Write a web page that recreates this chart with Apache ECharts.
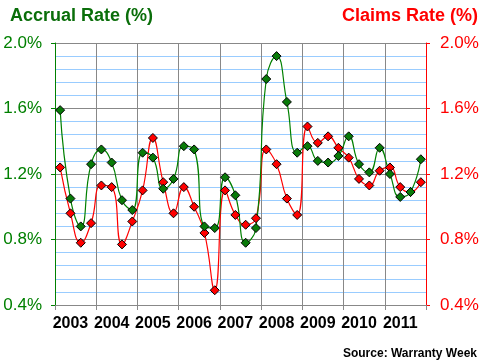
<!DOCTYPE html>
<html><head><meta charset="utf-8">
<script src="https://cdn.jsdelivr.net/npm/echarts@6/dist/echarts.min.js"></script>
<style>html,body{margin:0;padding:0;background:#fff}#c{width:486px;height:363px}</style>
</head><body><div id="c"></div>
<script>
var years = ['2003','2004','2005','2006','2007','2008','2009','2010','2011'];
var quarters = [];
years.forEach(function(y){ for (var q=0;q<4;q++) quarters.push(y); });
var accrual = [1.59,1.05,0.88,1.26,1.35,1.27,1.04,0.98,1.33,1.30,1.11,1.17,1.37,1.35,0.88,0.87,1.18,1.07,0.78,0.87,1.78,1.92,1.64,1.33,1.37,1.28,1.27,1.31,1.43,1.26,1.21,1.36,1.20,1.06,1.09,1.29];
var claims = [1.24,0.96,0.78,0.90,1.13,1.12,0.77,0.91,1.10,1.42,1.15,0.96,1.12,1.00,0.84,0.49,1.10,0.95,0.89,0.93,1.35,1.26,1.05,0.95,1.49,1.39,1.43,1.36,1.30,1.17,1.13,1.22,1.24,1.12,1.09,1.15];
var yTicks = [0.4,0.8,1.2,1.6,2.0];

var chart = echarts.init(document.getElementById('c'), null, {renderer:'canvas'});
var fmt = function(v){ return v.toFixed(1) + '%'; };
chart.setOption({
  animation:false,
  backgroundColor:'#fff',
  title:[
    {text:'Accrual Rate (%)', left:5, top:2, textStyle:{color:'#0a6e0a', fontSize:18, fontWeight:'bold', fontFamily:'Liberation Sans'}},
    {text:'Claims Rate (%)', right:3, top:2, textStyle:{color:'#ff0000', fontSize:18, fontWeight:'bold', fontFamily:'Liberation Sans'}},
    {text:'Source: Warranty Week', right:4, top:343, textStyle:{color:'#000', fontSize:12, fontWeight:'bold', fontFamily:'Liberation Sans'}}
  ],
  grid:{left:55, right:60, top:43, bottom:58},
  xAxis:{
    type:'category', data:quarters, boundaryGap:true,
    axisLine:{lineStyle:{color:'#888', width:1}},
    axisTick:{show:true, length:5, interval:function(i){return i%4===0;}, lineStyle:{color:'#888'}},
    splitLine:{show:true, interval:function(i){return i%4===0;}, lineStyle:{color:'#888', width:1}},
    axisLabel:{interval:function(i){return i%4===1;}, margin:11, color:'#000', fontSize:16, fontWeight:'bold', fontFamily:'Liberation Sans'}
  },
  yAxis:[
    {type:'value', min:yTicks[0], max:yTicks[yTicks.length-1], interval:0.4, position:'left',
     axisLine:{show:true, lineStyle:{color:'#008000', width:1}},
     axisTick:{show:true, length:4, lineStyle:{color:'#008000'}},
     axisLabel:{formatter:fmt, color:'#008000', fontSize:17, margin:13, fontFamily:'Liberation Sans'},
     splitLine:{show:true, lineStyle:{color:'#888', width:1}},
     minorTick:{show:false, splitNumber:5},
     minorSplitLine:{show:true, lineStyle:{color:'#99ccff', width:1}}
    },
    {type:'value', min:yTicks[0], max:yTicks[yTicks.length-1], interval:0.4, position:'right',
     axisLine:{show:true, lineStyle:{color:'#ff0000', width:1}},
     axisTick:{show:true, length:4, lineStyle:{color:'#ff0000'}},
     axisLabel:{formatter:fmt, color:'#ff0000', fontSize:17, margin:14, fontFamily:'Liberation Sans'},
     splitLine:{show:false}
    }
  ],
  series:[
    {name:'Claims', type:'line', yAxisIndex:1, data:claims, smooth:0.5,
     symbol:'diamond', symbolSize:9, showAllSymbol:true,
     lineStyle:{color:'#ff0000', width:1.2},
     itemStyle:{color:'#ff0000', borderColor:'#000', borderWidth:1}},
    {name:'Accrual', type:'line', yAxisIndex:0, data:accrual, smooth:0.5,
     symbol:'diamond', symbolSize:9, showAllSymbol:true,
     lineStyle:{color:'#008000', width:1.2},
     itemStyle:{color:'#087a08', borderColor:'#000', borderWidth:1}}
  ]
});
</script></body></html>
